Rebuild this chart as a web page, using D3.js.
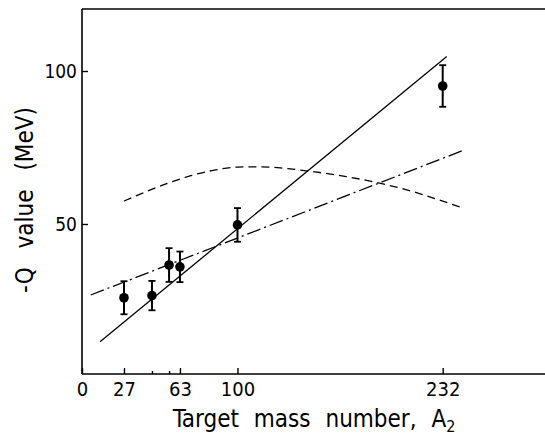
<!DOCTYPE html>
<html><head><meta charset="utf-8">
<script src="https://cdn.jsdelivr.net/npm/d3@7"></script>
<style>body{margin:0;background:#fff}svg{display:block}</style>
</head><body>
<svg id="c" width="545" height="440"></svg>
<script>
// data
const massNumbers = [27, 45, 56, 63, 100, 232];
const qValues = [25.9, 26.6, 36.6, 36.0, 49.7, 95.1];
const qErrors = [5.4, 4.8, 5.5, 5.0, 5.5, 6.8];
const xTickValues = [0, 27, 63, 100, 232];
const xMinorTicks = [45, 56];
const yTickValues = [50, 100];
const solidLineA = [11.6, 234.6];
const solidLineQ = [11.5, 104.7];
const dashDotA = [5.6, 244.9];
const dashDotQ = [26.8, 74.0];
const dashedA = [27, 40, 55, 70, 85, 100, 115, 130, 150, 170, 190, 210, 230, 245];
const dashedQ = [57.5, 60.3, 63.3, 65.8, 67.6, 68.6, 68.7, 68.2, 67, 65.5, 63.5, 61, 57.8, 55.2];

(function () {
const svg = d3.select('#c');
const pLeft = 82, pRight = 545, pTop = 9, pBottom = 374;
const x = d3.scaleLinear().domain([0, 232]).range([pLeft, 442.7]);
const y = d3.scaleLinear().domain([50, 100]).range([224, 71]);
const font = "'DejaVu Sans Condensed', 'DejaVu Sans', sans-serif";

// frame lines
svg.append('line').attr('x1', pLeft).attr('x2', pRight).attr('y1', pTop).attr('y2', pTop)
  .attr('stroke', '#000').attr('stroke-width', 1.6);
svg.append('line').attr('x1', pLeft).attr('x2', pLeft).attr('y1', pTop).attr('y2', pBottom)
  .attr('stroke', '#000').attr('stroke-width', 1.6);
svg.append('line').attr('x1', pLeft).attr('x2', pRight).attr('y1', pBottom).attr('y2', pBottom)
  .attr('stroke', '#000').attr('stroke-width', 1.6);

// x axis
const xAxis = d3.axisBottom(x).tickValues(xTickValues).tickSize(-6).tickPadding(8).tickFormat(d3.format('d'));
const gx = svg.append('g').attr('transform', `translate(0,${pBottom})`).call(xAxis);
gx.select('.domain').remove();
gx.selectAll('line').attr('stroke', '#000').attr('stroke-width', 1.4);
gx.selectAll('text').attr('font-family', font).attr('font-size', 20).attr('fill', '#000');
const xMinor = d3.axisBottom(x).tickValues(xMinorTicks).tickSize(-3).tickFormat('');
const gxm = svg.append('g').attr('transform', `translate(0,${pBottom})`).call(xMinor);
gxm.select('.domain').remove();
gxm.selectAll('line').attr('stroke', '#000').attr('stroke-width', 1.4);

// y axis
const yAxis = d3.axisLeft(y).tickValues(yTickValues).tickSize(-6).tickPadding(5).tickFormat(d3.format('d'));
const gy = svg.append('g').attr('transform', `translate(${pLeft},0)`).call(yAxis);
gy.select('.domain').remove();
gy.selectAll('line').attr('stroke', '#000').attr('stroke-width', 1.4);
gy.selectAll('text').attr('font-family', font).attr('font-size', 19).attr('fill', '#000');

// lines
const line = d3.line().x(d => x(d[0])).y(d => y(d[1]));
svg.append('path').datum(d3.zip(solidLineA, solidLineQ)).attr('d', line)
  .attr('fill', 'none').attr('stroke', '#000').attr('stroke-width', 1.3);
svg.append('path').datum(d3.zip(dashDotA, dashDotQ)).attr('d', line)
  .attr('fill', 'none').attr('stroke', '#000').attr('stroke-width', 1.3)
  .attr('stroke-dasharray', '14,4,2,4');
svg.append('path').datum(d3.zip(dashedA, dashedQ)).attr('d', line.curve(d3.curveMonotoneX))
  .attr('fill', 'none').attr('stroke', '#000').attr('stroke-width', 1.3)
  .attr('stroke-dasharray', '8,5');

// error bars
const pts = massNumbers.map((a, i) => ({a, q: qValues[i], e: qErrors[i]}));
const eb = svg.append('g');
pts.forEach(p => {
  eb.append('line').attr('x1', x(p.a)).attr('x2', x(p.a)).attr('y1', y(p.q + p.e)).attr('y2', y(p.q - p.e))
    .attr('stroke', '#000').attr('stroke-width', 2);
  [p.q + p.e, p.q - p.e].forEach(v => {
    eb.append('line').attr('x1', x(p.a) - 3.5).attr('x2', x(p.a) + 3.5).attr('y1', y(v)).attr('y2', y(v))
      .attr('stroke', '#000').attr('stroke-width', 1.8);
  });
  eb.append('circle').attr('cx', x(p.a)).attr('cy', y(p.q)).attr('r', 4.8).attr('fill', '#000');
});

// axis titles
const xt = svg.append('text').attr('x', 314).attr('y', 427).attr('text-anchor', 'middle')
  .attr('font-family', font).attr('font-size', 24).attr('fill', '#000').attr('word-spacing', 8);
xt.append('tspan').text('Target mass number, A');
xt.append('tspan').attr('font-size', 16).attr('dy', 5).text('2');

svg.append('text').attr('transform', 'translate(33,200) rotate(-90)').attr('text-anchor', 'middle')
  .attr('font-family', font).attr('font-size', 24).attr('fill', '#000').attr('word-spacing', 12)
  .text('-Q value (MeV)');
})();
</script>
</body></html>
